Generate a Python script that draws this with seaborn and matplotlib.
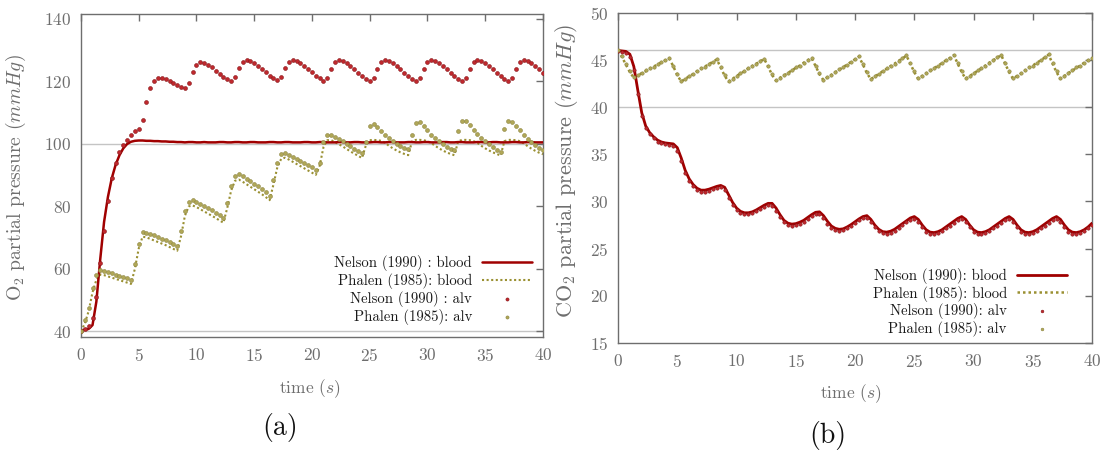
import numpy as np
import matplotlib
matplotlib.use("Agg")
import matplotlib.pyplot as plt
import seaborn as sns

# ---------------- data (sampled every 1/3 s, 0..40 s) ----------------
time_s = np.linspace(0, 40, 121)

o2_nelson_alv = [40.0,
    40.6, 41.6, 44.2, 51.0, 62.0, 72.0, 81.8, 89.2, 94.0, 97.3, 99.6, 101.3,
    102.8, 104.0, 104.9, 107.8, 113.5, 117.8, 120.3, 121.1, 121.2, 120.9, 120.3, 119.6,
    118.9, 118.1, 117.9, 119.6, 123.0, 125.2, 126.1, 126.0, 125.4, 124.5, 123.5, 122.5,
    121.5, 120.7, 120.2, 121.4, 124.3, 126.2, 126.8, 126.6, 125.9, 125.0, 124.0, 122.9,
    121.9, 121.0, 120.4, 121.3, 124.2, 126.2, 126.9, 126.7, 126.0, 125.0, 124.0, 122.9,
    121.9, 121.0, 120.3, 121.2, 124.1, 126.2, 126.9, 126.7, 126.0, 125.0, 123.9, 122.8,
    121.8, 120.9, 120.2, 121.1, 124.0, 126.1, 126.9, 126.7, 126.0, 125.0, 123.9, 122.8,
    121.8, 120.9, 120.2, 121.1, 124.0, 126.1, 126.9, 126.7, 126.0, 125.0, 123.9, 122.8,
    121.8, 120.9, 120.2, 121.1, 124.0, 126.1, 126.9, 126.7, 126.0, 125.0, 123.9, 122.8,
    121.8, 120.9, 120.2, 121.1, 124.0, 126.1, 126.9, 126.7, 126.0, 125.0, 123.9, 122.8]

o2_phalen_alv = [40.0,
    43.5, 47.5, 54.0, 58.0, 59.5, 59.2, 58.9, 58.6, 58.2, 57.8, 57.4, 57.0,
    56.6, 61.5, 68.0, 71.8, 71.6, 71.2, 70.7, 70.2, 69.7, 69.2, 68.6, 68.0,
    67.4, 72.0, 78.5, 81.5, 81.9, 81.5, 80.8, 80.1, 79.4, 78.7, 78.0, 77.2,
    76.4, 81.0, 86.5, 89.8, 90.3, 89.6, 88.8, 88.0, 87.2, 86.4, 85.6, 84.6,
    83.4, 88.5, 94.0, 96.8, 97.2, 96.6, 95.9, 95.2, 94.5, 93.8, 93.1, 92.5,
    91.8, 94.0, 100.5, 103.0, 102.8, 102.2, 101.5, 100.8, 100.0, 99.2, 98.5, 97.8,
    97.0, 100.6, 105.8, 106.5, 105.5, 104.3, 103.0, 101.9, 100.9, 100.0, 99.3, 98.8,
    98.4, 103.0, 106.8, 107.0, 105.8, 104.4, 103.0, 101.8, 100.8, 99.9, 99.1, 98.5,
    98.0, 104.2, 107.3, 107.2, 106.0, 104.6, 103.2, 102.0, 100.9, 99.9, 99.0, 98.2,
    97.5, 104.8, 107.4, 107.0, 105.8, 104.4, 103.0, 101.7, 100.5, 99.6, 98.8, 98.1]

o2_phalen_blood = [40.0,
    42.5, 46.5, 52.5, 56.5, 58.2, 58.0, 57.6, 57.2, 56.8, 56.4, 56.0, 55.6,
    55.2, 60.0, 66.5, 70.3, 70.1, 69.6, 69.1, 68.6, 68.1, 67.6, 67.0, 66.4,
    65.8, 70.5, 77.0, 80.0, 80.3, 79.8, 79.1, 78.4, 77.7, 77.0, 76.3, 75.5,
    74.8, 79.5, 85.0, 88.2, 88.6, 87.9, 87.1, 86.3, 85.5, 84.7, 83.9, 83.0,
    82.0, 87.0, 92.5, 95.2, 95.6, 95.0, 94.3, 93.6, 92.9, 92.2, 91.5, 90.8,
    90.1, 93.0, 99.0, 101.2, 101.2, 100.6, 99.9, 99.2, 98.4, 97.6, 96.9, 96.2,
    95.5, 99.5, 101.2, 101.3, 101.2, 101.0, 100.4, 99.4, 98.6, 97.9, 97.3, 96.8,
    96.4, 100.8, 101.3, 101.3, 101.2, 100.9, 100.3, 99.4, 98.6, 97.9, 97.3, 96.8,
    96.4, 100.9, 101.3, 101.3, 101.2, 100.9, 100.3, 99.4, 98.6, 97.9, 97.3, 96.8,
    96.3, 100.9, 101.3, 101.3, 101.2, 100.9, 100.2, 99.3, 98.5, 97.8, 97.2, 96.7]

o2_nelson_blood = [40.3,
    40.5, 40.8, 42.0, 49.5, 63.0, 75.0, 83.0, 89.0, 93.3, 96.4, 98.6, 100.0,
    100.7, 101.0, 101.1, 101.1, 101.0, 101.0, 100.9, 100.9, 100.8, 100.8, 100.7, 100.7,
    100.6, 100.6, 100.5, 100.6, 100.6, 100.5, 100.5, 100.6, 100.5, 100.5, 100.5, 100.6,
    100.6, 100.5, 100.5, 100.6, 100.6, 100.5, 100.5, 100.6, 100.6, 100.5, 100.5, 100.5,
    100.6, 100.6, 100.5, 100.5, 100.6, 100.6, 100.5, 100.5, 100.5, 100.6, 100.6, 100.5,
    100.5, 100.6, 100.6, 100.5, 100.5, 100.5, 100.6, 100.6, 100.5, 100.5, 100.6, 100.6,
    100.5, 100.5, 100.5, 100.6, 100.6, 100.5, 100.5, 100.6, 100.6, 100.5, 100.5, 100.5,
    100.6, 100.6, 100.5, 100.5, 100.6, 100.6, 100.5, 100.5, 100.5, 100.6, 100.6, 100.5,
    100.5, 100.6, 100.6, 100.5, 100.5, 100.5, 100.6, 100.6, 100.5, 100.5, 100.6, 100.6,
    100.5, 100.5, 100.5, 100.6, 100.6, 100.5, 100.5, 100.6, 100.6, 100.5, 100.5, 100.5]

co2_phalen_blood = [46.0,
    45.3, 44.5, 43.7, 43.1, 43.35, 43.6, 43.8, 44.05, 44.3, 44.5, 44.75, 44.95,
    45.15, 44.3, 43.4, 42.7, 43.0, 43.25, 43.5, 43.8, 44.05, 44.3, 44.55, 44.8,
    45.05, 44.2, 43.3, 42.7, 43.0, 43.3, 43.55, 43.8, 44.1, 44.35, 44.6, 44.85,
    45.1, 44.3, 43.4, 42.8, 43.1, 43.35, 43.6, 43.9, 44.15, 44.4, 44.7, 44.95,
    45.2, 44.35, 43.5, 42.85, 43.15, 43.4, 43.7, 43.95, 44.25, 44.5, 44.8, 45.05,
    45.35, 44.5, 43.6, 42.95, 43.25, 43.5, 43.8, 44.05, 44.35, 44.6, 44.9, 45.15,
    45.45, 44.6, 43.7, 43.0, 43.3, 43.55, 43.85, 44.1, 44.4, 44.65, 44.95, 45.2,
    45.5, 44.6, 43.7, 43.0, 43.3, 43.55, 43.85, 44.1, 44.4, 44.7, 44.95, 45.25,
    45.5, 44.6, 43.7, 43.0, 43.3, 43.55, 43.85, 44.15, 44.4, 44.7, 44.95, 45.25,
    45.55, 44.6, 43.7, 43.0, 43.3, 43.6, 43.85, 44.15, 44.4, 44.7, 44.95, 45.2]

co2_phalen_alv = [46.0,
    45.4, 44.6, 43.8, 43.2, 43.4, 43.6, 43.9, 44.1, 44.3, 44.6, 44.8, 45.0,
    45.2, 44.4, 43.5, 42.8, 43.0, 43.3, 43.5, 43.8, 44.1, 44.3, 44.6, 44.8,
    45.1, 44.3, 43.4, 42.8, 43.0, 43.3, 43.6, 43.8, 44.1, 44.4, 44.6, 44.9,
    45.1, 44.4, 43.5, 42.9, 43.1, 43.4, 43.6, 43.9, 44.2, 44.4, 44.7, 45.0,
    45.2, 44.4, 43.6, 42.9, 43.2, 43.4, 43.7, 44.0, 44.3, 44.5, 44.8, 45.1,
    45.4, 44.6, 43.7, 43.0, 43.3, 43.5, 43.8, 44.1, 44.4, 44.6, 44.9, 45.2,
    45.5, 44.7, 43.8, 43.1, 43.3, 43.6, 43.9, 44.1, 44.4, 44.7, 45.0, 45.2,
    45.5, 44.7, 43.8, 43.1, 43.3, 43.6, 43.9, 44.1, 44.4, 44.7, 45.0, 45.3,
    45.5, 44.7, 43.8, 43.1, 43.3, 43.6, 43.9, 44.2, 44.4, 44.7, 45.0, 45.3,
    45.6, 44.7, 43.8, 43.1, 43.3, 43.6, 43.9, 44.2, 44.4, 44.7, 45.0, 45.2]

co2_nelson_blood = [46.0,
    45.95, 45.9, 45.6, 44.3, 41.8, 39.4, 38.0, 37.3, 36.85, 36.5, 36.3, 36.2,
    36.15, 36.1, 35.7, 34.6, 33.3, 32.4, 31.8, 31.4, 31.2, 31.2, 31.3, 31.45,
    31.6, 31.7, 31.5, 30.7, 29.9, 29.3, 28.95, 28.8, 28.8, 28.9, 29.1, 29.35,
    29.6, 29.8, 29.8, 29.3, 28.6, 28.0, 27.7, 27.6, 27.65, 27.8, 28.0, 28.3,
    28.6, 28.85, 28.9, 28.5, 27.9, 27.4, 27.15, 27.05, 27.1, 27.3, 27.55, 27.85,
    28.15, 28.4, 28.5, 28.1, 27.5, 27.05, 26.8, 26.75, 26.85, 27.05, 27.35, 27.65,
    27.95, 28.25, 28.4, 28.1, 27.5, 27.0, 26.75, 26.7, 26.8, 27.0, 27.3, 27.6,
    27.9, 28.2, 28.4, 28.1, 27.5, 27.0, 26.75, 26.7, 26.8, 27.0, 27.3, 27.6,
    27.9, 28.2, 28.4, 28.1, 27.5, 27.0, 26.75, 26.7, 26.8, 27.0, 27.3, 27.6,
    27.9, 28.2, 28.4, 28.1, 27.5, 27.0, 26.75, 26.7, 26.8, 27.0, 27.3, 27.7]

co2_nelson_alv = [45.9,
    45.8, 45.7, 45.3, 43.9, 41.4, 39.1, 37.8, 37.1, 36.7, 36.35, 36.15, 36.05,
    36.0, 35.9, 35.4, 34.3, 33.0, 32.2, 31.6, 31.25, 31.05, 31.05, 31.15, 31.3,
    31.45, 31.5, 31.25, 30.4, 29.65, 29.1, 28.8, 28.65, 28.65, 28.75, 28.95, 29.2,
    29.45, 29.6, 29.55, 29.0, 28.35, 27.8, 27.55, 27.45, 27.5, 27.65, 27.85, 28.15,
    28.45, 28.65, 28.65, 28.2, 27.65, 27.2, 27.0, 26.9, 26.95, 27.15, 27.4, 27.7,
    28.0, 28.2, 28.25, 27.8, 27.25, 26.85, 26.65, 26.6, 26.7, 26.9, 27.2, 27.5,
    27.8, 28.05, 28.15, 27.8, 27.25, 26.8, 26.6, 26.55, 26.65, 26.85, 27.15, 27.45,
    27.75, 28.0, 28.15, 27.8, 27.25, 26.8, 26.6, 26.55, 26.65, 26.85, 27.15, 27.45,
    27.75, 28.0, 28.15, 27.8, 27.25, 26.8, 26.6, 26.55, 26.65, 26.85, 27.15, 27.45,
    27.75, 28.0, 28.15, 27.8, 27.25, 26.8, 26.6, 26.55, 26.65, 26.85, 27.15, 27.55]

x_ticks = [0, 5, 10, 15, 20, 25, 30, 35, 40]
o2_ticks = [40, 60, 80, 100, 120, 140]
co2_ticks = [15, 20, 25, 30, 35, 40, 45, 50]
o2_ref_lines = [40, 100]
co2_ref_lines = [40, 46]

labels_a = ["Nelson (1990) : blood", "Phalen (1985): blood",
            "Nelson (1990) : alv", "Phalen (1985): alv"]
labels_b = ["Nelson (1990): blood", "Phalen (1985): blood",
            "Nelson (1990): alv", "Phalen (1985): alv"]

# ---------------- style ----------------
sns.set_style("white")
plt.rcParams['font.family'] = ['cmr10', 'DejaVu Serif']
plt.rcParams['mathtext.fontset'] = 'cm'
plt.rcParams['axes.formatter.use_mathtext'] = True
plt.rcParams['axes.unicode_minus'] = False

GRAY = '#6e6e6e'
RED_LINE = '#a00000'
RED_DOT = '#c0282d'
RED_EDGE = '#861417'
OLV_LINE = '#9a9032'
OLV_DOT = '#b0a757'
OLV_EDGE = '#8c8540'

fig = plt.figure(figsize=(11.06, 4.53), dpi=100)
ax1 = fig.add_axes([0.0732, 0.2561, 0.4177, 0.7130])
ax2 = fig.add_axes([0.5588, 0.2428, 0.4286, 0.7291])


def style_axes(ax, yticks, ylim, ylabel, reflines, ylabel_size):
    for y in reflines:
        ax.axhline(y, color='#c4c4c4', lw=1.0, zorder=0)
    ax.set_xlim(0, 40)
    ax.set_ylim(*ylim)
    ax.set_xticks(x_ticks)
    ax.set_yticks(yticks)
    ax.tick_params(direction='in', length=5, width=1, color=GRAY,
                   labelcolor=GRAY, labelsize=12.5, top=True, right=True,
                   pad=7)
    for s in ax.spines.values():
        s.set_color(GRAY)
        s.set_linewidth(1.0)
    ax.set_xlabel(r'time ($s$)', color=GRAY, fontsize=12.5)
    ax.set_ylabel(ylabel, color=GRAY, fontsize=ylabel_size)


def draw(ax, nb, pb, na, pa, dot_s, lw_red, lw_olv):
    sns.lineplot(x=time_s, y=nb, ax=ax, color=RED_LINE, lw=lw_red,
                 estimator=None, sort=False, zorder=3)
    h1 = ax.lines[-1]
    sns.lineplot(x=time_s, y=pb, ax=ax, color=OLV_LINE, lw=lw_olv,
                 estimator=None, sort=False, zorder=2)
    h2 = ax.lines[-1]
    h2.set_linestyle((0, (1, 1.2)))
    sns.scatterplot(x=time_s, y=na, ax=ax, s=dot_s, color=RED_DOT,
                    edgecolor=RED_EDGE, linewidth=0.4, zorder=4)
    h3 = ax.collections[-1]
    sns.scatterplot(x=time_s, y=pa, ax=ax, s=dot_s, color=OLV_DOT,
                    edgecolor=OLV_EDGE, linewidth=0.4, zorder=4)
    h4 = ax.collections[-1]
    return [h1, h2, h3, h4]


LEG = dict(loc='lower right', frameon=False, markerfirst=False,
           fontsize=10.6, handlelength=3.4, labelspacing=0.12,
           borderaxespad=0, scatterpoints=1, handletextpad=0.7,
           labelcolor='#1a1a1a', markerscale=0.8)

hs1 = draw(ax1, o2_nelson_blood, o2_phalen_blood, o2_nelson_alv,
           o2_phalen_alv, 8, 1.8, 1.5)
style_axes(ax1, o2_ticks, (38.2, 141.6),
           r'O$_2$ partial pressure ($mmHg$)', o2_ref_lines, 14.2)
ax1.yaxis.set_label_coords(-0.115, 0.495)
ax1.xaxis.set_label_coords(0.496, -0.125)
ax1.legend(hs1, labels_a, bbox_to_anchor=(0.99, 0.02), **LEG)

hs2 = draw(ax2, co2_nelson_blood, co2_phalen_blood, co2_nelson_alv,
           co2_phalen_alv, 6, 2.0, 1.8)
style_axes(ax2, co2_ticks, (15, 50),
           r'CO$_2$ partial pressure ($mmHg$)', co2_ref_lines, 16)
ax2.yaxis.set_label_coords(-0.08, 0.52)
ax2.xaxis.set_label_coords(0.49, -0.12)
ax2.legend(hs2, labels_b, bbox_to_anchor=(0.96, 0.0), **LEG)

fig.text(280 / 1106, 1 - 428 / 453, '(a)', fontsize=20, ha='center',
         va='center', color='#111111')
fig.text(828 / 1106, 1 - 435 / 453, '(b)', fontsize=20, ha='center',
         va='center', color='#111111')

fig.savefig('out.png', dpi=100)
